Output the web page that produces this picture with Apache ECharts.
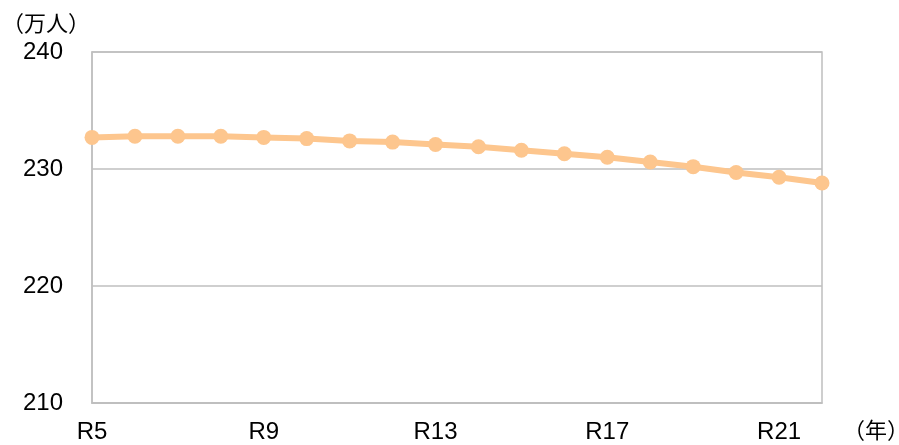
<!DOCTYPE html>
<html>
<head>
<meta charset="utf-8">
<script src="https://cdn.jsdelivr.net/npm/echarts@6/dist/echarts.min.js"></script>
<style>
  html, body { margin: 0; padding: 0; background: #fff; }
  #chart { width: 899px; height: 445px; }
</style>
</head>
<body>
<div id="chart"></div>
<script>
// Population projection (10,000 people) by year
const categories = ['R5','R6','R7','R8','R9','R10','R11','R12','R13','R14','R15','R16','R17','R18','R19','R20','R21','R22'];
const population = [232.7, 232.8, 232.8, 232.8, 232.7, 232.6, 232.4, 232.3, 232.1, 231.9, 231.6, 231.3, 231.0, 230.6, 230.2, 229.7, 229.3, 228.8];
const yTicks = { min: 210, max: 240, interval: 10 };

const fontFamily = '"Liberation Sans", Arial, "Noto Sans CJK JP", sans-serif';
const cjkFont = '"Noto Sans CJK JP", sans-serif';
const chart = echarts.init(document.getElementById('chart'));
chart.setOption({
  animation: false,
  grid: {
    left: 92, right: 77, top: 52, bottom: 42,
    show: true, borderColor: '#BFBFBF', borderWidth: 1.5
  },
  graphic: [
    { type: 'text', left: 2, top: 12,
      style: { text: '（万人）', fontSize: 22, fill: '#000', fontFamily: cjkFont } },
    { type: 'text', left: 843, top: 419,
      style: { text: '（年）', fontSize: 22, fill: '#000', fontFamily: cjkFont } }
  ],
  xAxis: {
    type: 'category',
    data: categories,
    boundaryGap: false,
    axisLine: { show: true, lineStyle: { color: '#BFBFBF', width: 1.5 } },
    axisTick: { show: false },
    axisLabel: { interval: 3, margin: 17, fontSize: 24, color: '#000', fontFamily: fontFamily }
  },
  yAxis: {
    type: 'value',
    min: yTicks.min, max: yTicks.max, interval: yTicks.interval,
    axisLine: { show: true, lineStyle: { color: '#BFBFBF', width: 1.5 } },
    axisTick: { show: false },
    splitLine: { lineStyle: { color: '#BFBFBF', width: 1.5 } },
    axisLabel: { margin: 29, fontSize: 24, color: '#000', fontFamily: fontFamily }
  },
  series: [{
    type: 'line',
    data: population,
    symbol: 'circle',
    symbolSize: 15,
    lineStyle: { color: '#FDC68E', width: 6 },
    itemStyle: { color: '#FDC68E' }
  }]
});
</script>
</body>
</html>
